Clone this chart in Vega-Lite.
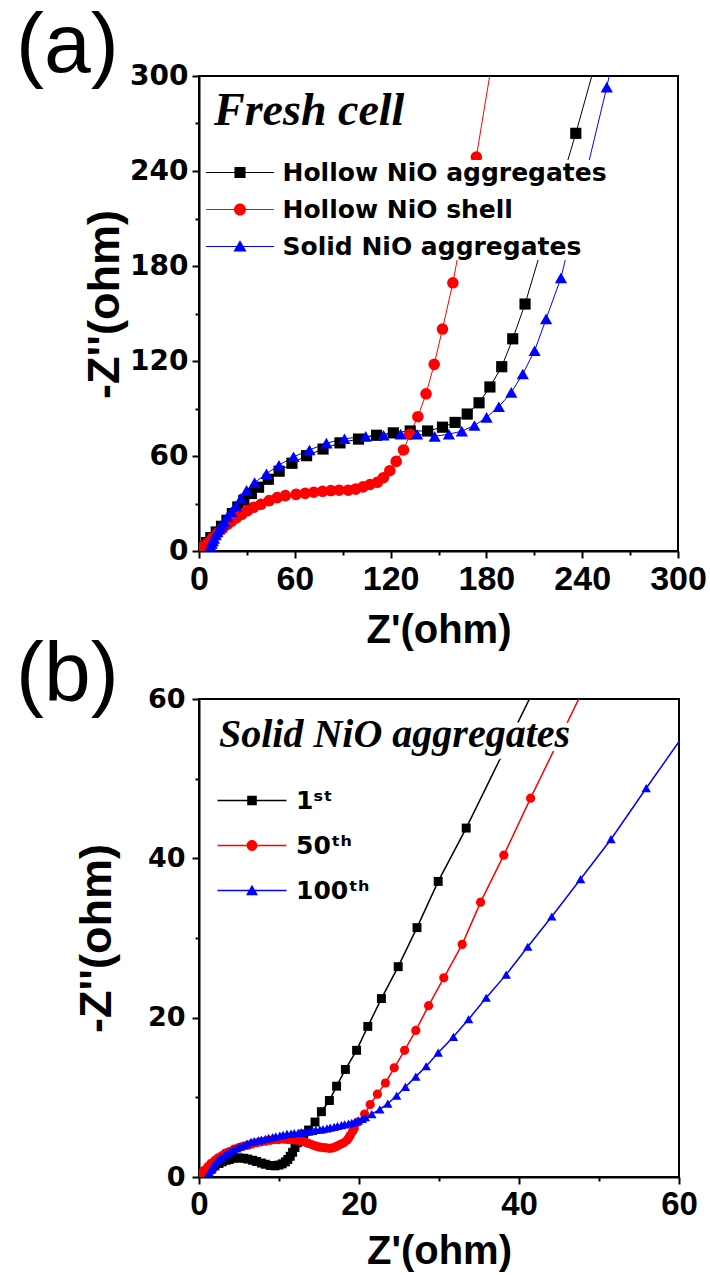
{
  "$schema": "https://vega.github.io/schema/vega-lite/v6.json",
  "background": "white",
  "padding": {"left": 15, "top": 4, "right": 0, "bottom": 0},
  "autosize": {"type": "pad"},
  "bounds": "flush",
  "spacing": 148,
  "config": {
    "view": {"stroke": "black", "strokeWidth": 2},
    "axis": {
      "grid": false, "domainColor": "black", "domainWidth": 2,
      "tickColor": "black", "tickWidth": 2, "labelColor": "black", "titleColor": "black",
      "labelFlush": false, "labelOverlap": false, "labelBound": false,
      "titleFont": "Liberation Sans", "titleFontWeight": "bold", "labelFontWeight": "bold"
    },
    "title": {"font": "Liberation Sans", "fontWeight": "normal", "color": "black", "anchor": "start", "frame": "group"}
  },
  "resolve": {
    "scale": {"color": "independent", "shape": "independent"},
    "legend": {"color": "independent", "shape": "independent"}
  },
  "datasets": {
    "fresh": [
      {"s": "Hollow NiO aggregates", "x": 0.7, "y": 0.4},
      {"s": "Hollow NiO aggregates", "x": 2.5, "y": 2.5},
      {"s": "Hollow NiO aggregates", "x": 4.7, "y": 5.3},
      {"s": "Hollow NiO aggregates", "x": 7.4, "y": 8.4},
      {"s": "Hollow NiO aggregates", "x": 10.8, "y": 12},
      {"s": "Hollow NiO aggregates", "x": 14.1, "y": 15.6},
      {"s": "Hollow NiO aggregates", "x": 17.5, "y": 19.4},
      {"s": "Hollow NiO aggregates", "x": 20.9, "y": 23.6},
      {"s": "Hollow NiO aggregates", "x": 24.3, "y": 27.8},
      {"s": "Hollow NiO aggregates", "x": 28.1, "y": 32.1},
      {"s": "Hollow NiO aggregates", "x": 32.8, "y": 36.3},
      {"s": "Hollow NiO aggregates", "x": 37.3, "y": 40.3},
      {"s": "Hollow NiO aggregates", "x": 43.4, "y": 45.3},
      {"s": "Hollow NiO aggregates", "x": 50.2, "y": 50.4},
      {"s": "Hollow NiO aggregates", "x": 58.2, "y": 55.4},
      {"s": "Hollow NiO aggregates", "x": 67.4, "y": 60.2},
      {"s": "Hollow NiO aggregates", "x": 77.7, "y": 64.4},
      {"s": "Hollow NiO aggregates", "x": 88.3, "y": 68.3},
      {"s": "Hollow NiO aggregates", "x": 99.9, "y": 70.7},
      {"s": "Hollow NiO aggregates", "x": 111.2, "y": 73.1},
      {"s": "Hollow NiO aggregates", "x": 121.7, "y": 74.6},
      {"s": "Hollow NiO aggregates", "x": 132.3, "y": 75.8},
      {"s": "Hollow NiO aggregates", "x": 143.2, "y": 75.8},
      {"s": "Hollow NiO aggregates", "x": 152.5, "y": 78.2},
      {"s": "Hollow NiO aggregates", "x": 160.4, "y": 81.2},
      {"s": "Hollow NiO aggregates", "x": 168, "y": 86.5},
      {"s": "Hollow NiO aggregates", "x": 175.4, "y": 93.6},
      {"s": "Hollow NiO aggregates", "x": 182.2, "y": 103.6},
      {"s": "Hollow NiO aggregates", "x": 189.6, "y": 116.4},
      {"s": "Hollow NiO aggregates", "x": 196.5, "y": 134},
      {"s": "Hollow NiO aggregates", "x": 204.2, "y": 156},
      {"s": "Hollow NiO aggregates", "x": 236, "y": 263.8},
      {"s": "Hollow NiO aggregates", "x": 248.5, "y": 309},
      {"s": "Hollow NiO shell", "x": 0.6, "y": 0.6},
      {"s": "Hollow NiO shell", "x": 2.5, "y": 2.7},
      {"s": "Hollow NiO shell", "x": 5.2, "y": 4.8},
      {"s": "Hollow NiO shell", "x": 8.4, "y": 8},
      {"s": "Hollow NiO shell", "x": 11.5, "y": 11.2},
      {"s": "Hollow NiO shell", "x": 14.7, "y": 14.1},
      {"s": "Hollow NiO shell", "x": 17.8, "y": 16.8},
      {"s": "Hollow NiO shell", "x": 20.5, "y": 18.9},
      {"s": "Hollow NiO shell", "x": 23.5, "y": 21.1},
      {"s": "Hollow NiO shell", "x": 26.8, "y": 23.2},
      {"s": "Hollow NiO shell", "x": 30.4, "y": 25.5},
      {"s": "Hollow NiO shell", "x": 34.2, "y": 27.6},
      {"s": "Hollow NiO shell", "x": 38.8, "y": 29.5},
      {"s": "Hollow NiO shell", "x": 44, "y": 31.8},
      {"s": "Hollow NiO shell", "x": 49, "y": 33.7},
      {"s": "Hollow NiO shell", "x": 54.1, "y": 35},
      {"s": "Hollow NiO shell", "x": 60.8, "y": 35.8},
      {"s": "Hollow NiO shell", "x": 66.5, "y": 36.4},
      {"s": "Hollow NiO shell", "x": 71.9, "y": 37.1},
      {"s": "Hollow NiO shell", "x": 77.4, "y": 37.7},
      {"s": "Hollow NiO shell", "x": 82.6, "y": 38.2},
      {"s": "Hollow NiO shell", "x": 87.8, "y": 38.4},
      {"s": "Hollow NiO shell", "x": 93.5, "y": 38.4},
      {"s": "Hollow NiO shell", "x": 98.1, "y": 39.1},
      {"s": "Hollow NiO shell", "x": 102.7, "y": 40.5},
      {"s": "Hollow NiO shell", "x": 107.1, "y": 42},
      {"s": "Hollow NiO shell", "x": 111.7, "y": 43.4},
      {"s": "Hollow NiO shell", "x": 115.5, "y": 46.3},
      {"s": "Hollow NiO shell", "x": 119.5, "y": 50.7},
      {"s": "Hollow NiO shell", "x": 123.5, "y": 56.6},
      {"s": "Hollow NiO shell", "x": 128.1, "y": 63.8},
      {"s": "Hollow NiO shell", "x": 132.1, "y": 73.7},
      {"s": "Hollow NiO shell", "x": 137.1, "y": 84.8},
      {"s": "Hollow NiO shell", "x": 142.2, "y": 99.3},
      {"s": "Hollow NiO shell", "x": 147.3, "y": 117.9},
      {"s": "Hollow NiO shell", "x": 152.5, "y": 140.2},
      {"s": "Hollow NiO shell", "x": 159, "y": 169.4},
      {"s": "Hollow NiO shell", "x": 173.7, "y": 248.8},
      {"s": "Hollow NiO shell", "x": 184.5, "y": 315},
      {"s": "Solid NiO aggregates", "x": 6.3, "y": 0},
      {"s": "Solid NiO aggregates", "x": 6.7, "y": 1.7},
      {"s": "Solid NiO aggregates", "x": 7.3, "y": 3.2},
      {"s": "Solid NiO aggregates", "x": 8, "y": 4.8},
      {"s": "Solid NiO aggregates", "x": 8.7, "y": 6.4},
      {"s": "Solid NiO aggregates", "x": 9.4, "y": 8},
      {"s": "Solid NiO aggregates", "x": 10.4, "y": 10.1},
      {"s": "Solid NiO aggregates", "x": 11.5, "y": 12.2},
      {"s": "Solid NiO aggregates", "x": 12.5, "y": 13.8},
      {"s": "Solid NiO aggregates", "x": 13.6, "y": 15.4},
      {"s": "Solid NiO aggregates", "x": 14.6, "y": 17},
      {"s": "Solid NiO aggregates", "x": 15.7, "y": 18.5},
      {"s": "Solid NiO aggregates", "x": 17.8, "y": 21.7},
      {"s": "Solid NiO aggregates", "x": 20.3, "y": 24.8},
      {"s": "Solid NiO aggregates", "x": 23.1, "y": 28.4},
      {"s": "Solid NiO aggregates", "x": 26.2, "y": 33.2},
      {"s": "Solid NiO aggregates", "x": 29.8, "y": 38.3},
      {"s": "Solid NiO aggregates", "x": 34.8, "y": 43.2},
      {"s": "Solid NiO aggregates", "x": 42.3, "y": 48.8},
      {"s": "Solid NiO aggregates", "x": 50.1, "y": 54.2},
      {"s": "Solid NiO aggregates", "x": 59.2, "y": 59.5},
      {"s": "Solid NiO aggregates", "x": 69.2, "y": 63.8},
      {"s": "Solid NiO aggregates", "x": 79.8, "y": 68.1},
      {"s": "Solid NiO aggregates", "x": 91.1, "y": 70.9},
      {"s": "Solid NiO aggregates", "x": 104.4, "y": 72.4},
      {"s": "Solid NiO aggregates", "x": 115.6, "y": 73.1},
      {"s": "Solid NiO aggregates", "x": 126.3, "y": 73.8},
      {"s": "Solid NiO aggregates", "x": 136.6, "y": 73.7},
      {"s": "Solid NiO aggregates", "x": 147.6, "y": 72.4},
      {"s": "Solid NiO aggregates", "x": 156.5, "y": 73.8},
      {"s": "Solid NiO aggregates", "x": 164.6, "y": 75.7},
      {"s": "Solid NiO aggregates", "x": 172.5, "y": 79.3},
      {"s": "Solid NiO aggregates", "x": 180.1, "y": 84.4},
      {"s": "Solid NiO aggregates", "x": 187.8, "y": 91.1},
      {"s": "Solid NiO aggregates", "x": 195.6, "y": 100.2},
      {"s": "Solid NiO aggregates", "x": 202.8, "y": 111.8},
      {"s": "Solid NiO aggregates", "x": 210.2, "y": 126.5},
      {"s": "Solid NiO aggregates", "x": 217.4, "y": 146.6},
      {"s": "Solid NiO aggregates", "x": 226.7, "y": 172.5},
      {"s": "Solid NiO aggregates", "x": 255.4, "y": 293},
      {"s": "Solid NiO aggregates", "x": 259.5, "y": 312}
    ],
    "cycled": [
      {"s": "1ˢᵗ", "x": 0.2, "y": 0.2}, {"s": "1ˢᵗ", "x": 0.7, "y": 0.5}, {"s": "1ˢᵗ", "x": 1.1, "y": 0.8},
      {"s": "1ˢᵗ", "x": 1.6, "y": 1.1}, {"s": "1ˢᵗ", "x": 2, "y": 1.4}, {"s": "1ˢᵗ", "x": 2.5, "y": 1.7},
      {"s": "1ˢᵗ", "x": 2.9, "y": 1.9}, {"s": "1ˢᵗ", "x": 3.4, "y": 2.1}, {"s": "1ˢᵗ", "x": 3.8, "y": 2.2},
      {"s": "1ˢᵗ", "x": 4.4, "y": 2.35}, {"s": "1ˢᵗ", "x": 5, "y": 2.4}, {"s": "1ˢᵗ", "x": 5.6, "y": 2.35},
      {"s": "1ˢᵗ", "x": 6.1, "y": 2.25}, {"s": "1ˢᵗ", "x": 6.7, "y": 2.1}, {"s": "1ˢᵗ", "x": 7.2, "y": 1.95},
      {"s": "1ˢᵗ", "x": 7.8, "y": 1.75}, {"s": "1ˢᵗ", "x": 8.3, "y": 1.6}, {"s": "1ˢᵗ", "x": 8.9, "y": 1.45},
      {"s": "1ˢᵗ", "x": 9.5, "y": 1.4}, {"s": "1ˢᵗ", "x": 10, "y": 1.5}, {"s": "1ˢᵗ", "x": 10.4, "y": 1.65},
      {"s": "1ˢᵗ", "x": 10.8, "y": 1.9}, {"s": "1ˢᵗ", "x": 11.1, "y": 2.2}, {"s": "1ˢᵗ", "x": 11.4, "y": 2.6},
      {"s": "1ˢᵗ", "x": 11.7, "y": 3.1}, {"s": "1ˢᵗ", "x": 12, "y": 3.7}, {"s": "1ˢᵗ", "x": 12.3, "y": 4.3},
      {"s": "1ˢᵗ", "x": 12.7, "y": 4.9}, {"s": "1ˢᵗ", "x": 13.1, "y": 5.4}, {"s": "1ˢᵗ", "x": 13.7, "y": 5.9},
      {"s": "1ˢᵗ", "x": 14.5, "y": 6.9}, {"s": "1ˢᵗ", "x": 15.3, "y": 8.2}, {"s": "1ˢᵗ", "x": 16.3, "y": 9.6},
      {"s": "1ˢᵗ", "x": 17.2, "y": 11.4}, {"s": "1ˢᵗ", "x": 18.3, "y": 13.5}, {"s": "1ˢᵗ", "x": 19.7, "y": 15.9},
      {"s": "1ˢᵗ", "x": 21.1, "y": 18.9}, {"s": "1ˢᵗ", "x": 22.8, "y": 22.4}, {"s": "1ˢᵗ", "x": 24.9, "y": 26.4},
      {"s": "1ˢᵗ", "x": 27.25, "y": 31.3}, {"s": "1ˢᵗ", "x": 29.9, "y": 37.1}, {"s": "1ˢᵗ", "x": 33.4, "y": 43.8},
      {"s": "1ˢᵗ", "x": 43.3, "y": 64.1},
      {"s": "50ᵗʰ", "x": 0.2, "y": 0.4}, {"s": "50ᵗʰ", "x": 0.6, "y": 0.8}, {"s": "50ᵗʰ", "x": 1.1, "y": 1.3},
      {"s": "50ᵗʰ", "x": 1.5, "y": 1.7}, {"s": "50ᵗʰ", "x": 2, "y": 2.1}, {"s": "50ᵗʰ", "x": 2.4, "y": 2.4},
      {"s": "50ᵗʰ", "x": 2.9, "y": 2.7}, {"s": "50ᵗʰ", "x": 3.3, "y": 3}, {"s": "50ᵗʰ", "x": 3.8, "y": 3.2},
      {"s": "50ᵗʰ", "x": 4.4, "y": 3.5}, {"s": "50ᵗʰ", "x": 5, "y": 3.7}, {"s": "50ᵗʰ", "x": 5.5, "y": 3.85},
      {"s": "50ᵗʰ", "x": 6.1, "y": 4}, {"s": "50ᵗʰ", "x": 6.6, "y": 4.15}, {"s": "50ᵗʰ", "x": 7.2, "y": 4.3},
      {"s": "50ᵗʰ", "x": 7.7, "y": 4.4}, {"s": "50ᵗʰ", "x": 8.3, "y": 4.5}, {"s": "50ᵗʰ", "x": 8.9, "y": 4.6},
      {"s": "50ᵗʰ", "x": 9.5, "y": 4.7}, {"s": "50ᵗʰ", "x": 10, "y": 4.7}, {"s": "50ᵗʰ", "x": 10.6, "y": 4.75},
      {"s": "50ᵗʰ", "x": 11.1, "y": 4.7}, {"s": "50ᵗʰ", "x": 11.5, "y": 4.7}, {"s": "50ᵗʰ", "x": 12, "y": 4.65},
      {"s": "50ᵗʰ", "x": 12.4, "y": 4.6}, {"s": "50ᵗʰ", "x": 12.8, "y": 4.5}, {"s": "50ᵗʰ", "x": 13.2, "y": 4.4},
      {"s": "50ᵗʰ", "x": 13.6, "y": 4.25}, {"s": "50ᵗʰ", "x": 14, "y": 4.1}, {"s": "50ᵗʰ", "x": 14.4, "y": 3.95},
      {"s": "50ᵗʰ", "x": 14.7, "y": 3.85}, {"s": "50ᵗʰ", "x": 15.1, "y": 3.75}, {"s": "50ᵗʰ", "x": 15.5, "y": 3.7},
      {"s": "50ᵗʰ", "x": 15.9, "y": 3.65}, {"s": "50ᵗʰ", "x": 16.3, "y": 3.6}, {"s": "50ᵗʰ", "x": 16.7, "y": 3.65},
      {"s": "50ᵗʰ", "x": 17.1, "y": 3.8}, {"s": "50ᵗʰ", "x": 17.4, "y": 3.95}, {"s": "50ᵗʰ", "x": 17.7, "y": 4.1},
      {"s": "50ᵗʰ", "x": 18.1, "y": 4.3}, {"s": "50ᵗʰ", "x": 18.5, "y": 4.6}, {"s": "50ᵗʰ", "x": 18.7, "y": 4.9},
      {"s": "50ᵗʰ", "x": 18.9, "y": 5.2}, {"s": "50ᵗʰ", "x": 19.2, "y": 5.7}, {"s": "50ᵗʰ", "x": 19.4, "y": 6.1},
      {"s": "50ᵗʰ", "x": 19.9, "y": 6.9}, {"s": "50ᵗʰ", "x": 20.7, "y": 7.9}, {"s": "50ᵗʰ", "x": 21.4, "y": 9.1},
      {"s": "50ᵗʰ", "x": 22.3, "y": 10.4}, {"s": "50ᵗʰ", "x": 23.3, "y": 11.8}, {"s": "50ᵗʰ", "x": 24.4, "y": 13.7},
      {"s": "50ᵗʰ", "x": 25.7, "y": 15.9}, {"s": "50ᵗʰ", "x": 27.1, "y": 18.4}, {"s": "50ᵗʰ", "x": 28.7, "y": 21.5},
      {"s": "50ᵗʰ", "x": 30.6, "y": 25}, {"s": "50ᵗʰ", "x": 32.9, "y": 29.2}, {"s": "50ᵗʰ", "x": 35.2, "y": 34.5},
      {"s": "50ᵗʰ", "x": 38.1, "y": 40.4}, {"s": "50ᵗʰ", "x": 41.45, "y": 47.55}, {"s": "50ᵗʰ", "x": 49.4, "y": 64},
      {"s": "100ᵗʰ", "x": 1.1, "y": 0.2}, {"s": "100ᵗʰ", "x": 1.3, "y": 0.55}, {"s": "100ᵗʰ", "x": 1.5, "y": 0.9},
      {"s": "100ᵗʰ", "x": 1.7, "y": 1.25}, {"s": "100ᵗʰ", "x": 1.9, "y": 1.6}, {"s": "100ᵗʰ", "x": 2.2, "y": 1.9},
      {"s": "100ᵗʰ", "x": 2.5, "y": 2.2}, {"s": "100ᵗʰ", "x": 2.8, "y": 2.45}, {"s": "100ᵗʰ", "x": 3.2, "y": 2.7},
      {"s": "100ᵗʰ", "x": 3.5, "y": 2.95}, {"s": "100ᵗʰ", "x": 3.9, "y": 3.2}, {"s": "100ᵗʰ", "x": 4.3, "y": 3.4},
      {"s": "100ᵗʰ", "x": 4.7, "y": 3.6}, {"s": "100ᵗʰ", "x": 5.1, "y": 3.8}, {"s": "100ᵗʰ", "x": 5.6, "y": 4},
      {"s": "100ᵗʰ", "x": 6, "y": 4.2}, {"s": "100ᵗʰ", "x": 6.5, "y": 4.4}, {"s": "100ᵗʰ", "x": 6.9, "y": 4.5},
      {"s": "100ᵗʰ", "x": 7.4, "y": 4.6}, {"s": "100ᵗʰ", "x": 7.8, "y": 4.7}, {"s": "100ᵗʰ", "x": 8.3, "y": 4.8},
      {"s": "100ᵗʰ", "x": 8.7, "y": 4.9}, {"s": "100ᵗʰ", "x": 9.2, "y": 5}, {"s": "100ᵗʰ", "x": 9.6, "y": 5.1},
      {"s": "100ᵗʰ", "x": 10.1, "y": 5.2}, {"s": "100ᵗʰ", "x": 10.5, "y": 5.3}, {"s": "100ᵗʰ", "x": 11, "y": 5.4},
      {"s": "100ᵗʰ", "x": 11.5, "y": 5.45}, {"s": "100ᵗʰ", "x": 11.9, "y": 5.5}, {"s": "100ᵗʰ", "x": 12.4, "y": 5.55},
      {"s": "100ᵗʰ", "x": 12.8, "y": 5.6}, {"s": "100ᵗʰ", "x": 13.3, "y": 5.65}, {"s": "100ᵗʰ", "x": 13.7, "y": 5.7},
      {"s": "100ᵗʰ", "x": 14.2, "y": 5.8}, {"s": "100ᵗʰ", "x": 14.6, "y": 5.9}, {"s": "100ᵗʰ", "x": 15.1, "y": 5.95},
      {"s": "100ᵗʰ", "x": 15.5, "y": 6}, {"s": "100ᵗʰ", "x": 16, "y": 6.1}, {"s": "100ᵗʰ", "x": 16.4, "y": 6.2},
      {"s": "100ᵗʰ", "x": 16.9, "y": 6.3}, {"s": "100ᵗʰ", "x": 17.3, "y": 6.4}, {"s": "100ᵗʰ", "x": 17.8, "y": 6.5},
      {"s": "100ᵗʰ", "x": 18.2, "y": 6.6}, {"s": "100ᵗʰ", "x": 18.7, "y": 6.7}, {"s": "100ᵗʰ", "x": 19.1, "y": 6.8},
      {"s": "100ᵗʰ", "x": 19.5, "y": 6.95}, {"s": "100ᵗʰ", "x": 19.9, "y": 7.1}, {"s": "100ᵗʰ", "x": 20.4, "y": 7.3},
      {"s": "100ᵗʰ", "x": 20.8, "y": 7.5}, {"s": "100ᵗʰ", "x": 21.6, "y": 7.9}, {"s": "100ᵗʰ", "x": 22.6, "y": 8.5},
      {"s": "100ᵗʰ", "x": 23.6, "y": 9.2}, {"s": "100ᵗʰ", "x": 24.7, "y": 10.2}, {"s": "100ᵗʰ", "x": 25.8, "y": 11.3},
      {"s": "100ᵗʰ", "x": 27.1, "y": 12.6}, {"s": "100ᵗʰ", "x": 28.4, "y": 13.9}, {"s": "100ᵗʰ", "x": 29.9, "y": 15.6},
      {"s": "100ᵗʰ", "x": 31.8, "y": 17.6}, {"s": "100ᵗʰ", "x": 33.7, "y": 19.8}, {"s": "100ᵗʰ", "x": 35.9, "y": 22.5},
      {"s": "100ᵗʰ", "x": 38.4, "y": 25.4}, {"s": "100ᵗʰ", "x": 41.1, "y": 28.9}, {"s": "100ᵗʰ", "x": 44.1, "y": 32.7},
      {"s": "100ᵗʰ", "x": 47.7, "y": 37.4}, {"s": "100ᵗʰ", "x": 51.5, "y": 42.4}, {"s": "100ᵗʰ", "x": 55.9, "y": 48.8},
      {"s": "100ᵗʰ", "x": 60.6, "y": 55.5}
    ]
  },
  "vconcat": [
    {
      "width": 479,
      "height": 475,
      "title": {"text": "(a)", "fontSize": 84, "baseline": "alphabetic", "offset": 4, "dy": 98, "dx": -183},
      "layer": [
        {
          "data": {"name": "fresh"},
          "mark": {"type": "line", "strokeWidth": 1, "clip": true},
          "encoding": {
            "x": {"field": "x", "type": "quantitative", "scale": {"domain": [0, 300], "nice": false, "zero": false},
              "axis": {"values": [0, 30, 60, 90, 120, 150, 180, 210, 240, 270, 300], "labelExpr": "datum.value % 60 === 0 ? datum.label : ''",
                "tickSize": {"condition": {"test": "datum.value % 60 === 0", "value": 7}, "value": 4},
                "labelFont": "Liberation Sans", "labelFontSize": 34, "labelPadding": 4,
                "title": "Z'(ohm)", "titleFontSize": 40, "titlePadding": 14}},
            "y": {"field": "y", "type": "quantitative", "scale": {"domain": [0, 300], "nice": false, "zero": false},
              "axis": {"values": [0, 30, 60, 90, 120, 150, 180, 210, 240, 270, 300], "labelExpr": "datum.value % 60 === 0 ? datum.label : ''",
                "tickSize": {"condition": {"test": "datum.value % 60 === 0", "value": 7}, "value": 4},
                "labelFont": "DejaVu Sans", "labelFontSize": 28, "labelPadding": 4,
                "title": "-Z''(ohm)", "titleFontSize": 45, "titlePadding": 2, "titleY": 228}},
            "color": {"field": "s", "type": "nominal",
              "scale": {"domain": ["Hollow NiO aggregates", "Hollow NiO shell", "Solid NiO aggregates"], "range": ["#000000", "#ff0000", "#0000ff"]},
              "legend": {
                "orient": "none", "legendX": 5, "legendY": 84, "title": null, "fillColor": "white", "padding": 0,
                "symbolSize": 144, "symbolOffset": 23.5, "symbolStrokeWidth": 0, "symbolOpacity": 1, "labelOffset": 30,
                "labelFont": "DejaVu Sans", "labelFontWeight": "bold", "labelFontSize": 25, "labelColor": "black",
                "rowPadding": 11, "labelLimit": 0}}
          }
        },
        {
          "data": {"name": "fresh"},
          "mark": {"type": "point", "filled": true, "opacity": 1, "size": 0, "clip": true},
          "encoding": {
            "x": {"field": "x", "type": "quantitative"},
            "y": {"field": "y", "type": "quantitative"},
            "color": {"field": "s", "type": "nominal", "legend": null},
            "shape": {"field": "s", "type": "nominal",
              "scale": {"domain": ["Hollow NiO aggregates", "Hollow NiO shell", "Solid NiO aggregates"],
                "range": ["M-5.67,-0.085H5.67V0.085H-5.67ZM-0.92,-0.92H0.92V0.92H-0.92Z", "M-5.67,-0.085H5.67V0.085H-5.67ZM1,0A1,1,0,1,1,-1,0A1,1,0,1,1,1,0Z", "M-5.67,-0.085H5.67V0.085H-5.67ZM0,-1.05L1.1,0.85H-1.1Z"]},
              "legend": null}
          }
        },
        {
          "data": {"name": "fresh"},
          "transform": [{"filter": "datum.s === 'Hollow NiO aggregates'"}],
          "mark": {"type": "point", "filled": true, "opacity": 1, "size": 125, "shape": "square", "color": "#000000", "clip": true},
          "encoding": {"x": {"field": "x", "type": "quantitative"}, "y": {"field": "y", "type": "quantitative"}}
        },
        {
          "data": {"name": "fresh"},
          "transform": [{"filter": "datum.s === 'Hollow NiO shell'"}],
          "mark": {"type": "point", "filled": true, "opacity": 1, "size": 135, "shape": "circle", "color": "#ff0000", "clip": true},
          "encoding": {"x": {"field": "x", "type": "quantitative"}, "y": {"field": "y", "type": "quantitative"}}
        },
        {
          "data": {"name": "fresh"},
          "transform": [{"filter": "datum.s === 'Solid NiO aggregates'"}],
          "mark": {"type": "point", "filled": true, "opacity": 1, "size": 150, "shape": "triangle-up", "color": "#0000ff", "clip": true},
          "encoding": {"x": {"field": "x", "type": "quantitative"}, "y": {"field": "y", "type": "quantitative"}}
        },
        {
          "data": {"values": [{}]},
          "mark": {"type": "text", "font": "Liberation Serif", "fontStyle": "italic", "fontWeight": "bold", "fontSize": 46, "align": "left", "baseline": "alphabetic", "color": "black"},
          "encoding": {
            "x": {"datum": 9.4, "type": "quantitative"},
            "y": {"datum": 269, "type": "quantitative"},
            "text": {"value": "Fresh cell"}
          }
        }
      ]
    },
    {
      "width": 480,
      "height": 478,
      "title": {"text": "(b)", "fontSize": 84, "baseline": "alphabetic", "offset": 0, "dy": 100, "dx": -183},
      "layer": [
        {
          "data": {"name": "cycled"},
          "mark": {"type": "line", "strokeWidth": 1.5, "clip": true},
          "encoding": {
            "x": {"field": "x", "type": "quantitative", "scale": {"domain": [0, 60], "nice": false, "zero": false},
              "axis": {"values": [0, 10, 20, 30, 40, 50, 60], "labelExpr": "datum.value % 20 === 0 ? datum.label : ''",
                "tickSize": {"condition": {"test": "datum.value % 20 === 0", "value": 7}, "value": 4},
                "labelFont": "Liberation Sans", "labelFontSize": 33, "labelPadding": 4,
                "title": "Z'(ohm)", "titleFontSize": 40, "titlePadding": 10}},
            "y": {"field": "y", "type": "quantitative", "scale": {"domain": [0, 60], "nice": false, "zero": false},
              "axis": {"values": [0, 10, 20, 30, 40, 50, 60], "labelExpr": "datum.value % 20 === 0 ? datum.label : ''",
                "tickSize": {"condition": {"test": "datum.value % 20 === 0", "value": 7}, "value": 4},
                "labelFont": "DejaVu Sans", "labelFontSize": 27, "labelPadding": 7,
                "title": "-Z''(ohm)", "titleFontSize": 45, "titlePadding": 28}},
            "color": {"field": "s", "type": "nominal",
              "scale": {"domain": ["1ˢᵗ", "50ᵗʰ", "100ᵗʰ"], "range": ["#000000", "#ff0000", "#0000ff"]},
              "legend": {
                "orient": "none", "legendX": 19, "legendY": 89, "title": null, "fillColor": "white", "padding": 0,
                "symbolSize": 144, "symbolOffset": 21.5, "symbolStrokeWidth": 0, "symbolOpacity": 1, "labelOffset": 31.5,
                "labelFont": "DejaVu Sans", "labelFontWeight": "bold", "labelFontSize": 25, "labelColor": "black",
                "rowPadding": 19, "labelLimit": 0}}
          }
        },
        {
          "data": {"name": "cycled"},
          "mark": {"type": "point", "filled": true, "opacity": 1, "size": 0, "clip": true},
          "encoding": {
            "x": {"field": "x", "type": "quantitative"},
            "y": {"field": "y", "type": "quantitative"},
            "color": {"field": "s", "type": "nominal", "legend": null},
            "shape": {"field": "s", "type": "nominal",
              "scale": {"domain": ["1ˢᵗ", "50ᵗʰ", "100ᵗʰ"],
                "range": ["M-5.75,-0.13H5.75V0.13H-5.75ZM-0.8,-0.8H0.8V0.8H-0.8Z", "M-5.75,-0.13H5.75V0.13H-5.75ZM0.9,0A0.9,0.9,0,1,1,-0.9,0A0.9,0.9,0,1,1,0.9,0Z", "M-5.75,-0.13H5.75V0.13H-5.75ZM0,-0.95L1,0.8H-1Z"]},
              "legend": null}
          }
        },
        {
          "data": {"name": "cycled"},
          "transform": [{"filter": "datum.s === '1ˢᵗ'"}],
          "mark": {"type": "point", "filled": true, "opacity": 1, "size": 80, "shape": "square", "color": "#000000", "clip": true},
          "encoding": {"x": {"field": "x", "type": "quantitative"}, "y": {"field": "y", "type": "quantitative"}}
        },
        {
          "data": {"name": "cycled"},
          "transform": [{"filter": "datum.s === '50ᵗʰ'"}],
          "mark": {"type": "point", "filled": true, "opacity": 1, "size": 85, "shape": "circle", "color": "#ff0000", "clip": true},
          "encoding": {"x": {"field": "x", "type": "quantitative"}, "y": {"field": "y", "type": "quantitative"}}
        },
        {
          "data": {"name": "cycled"},
          "transform": [{"filter": "datum.s === '100ᵗʰ'"}],
          "mark": {"type": "point", "filled": true, "opacity": 1, "size": 90, "shape": "triangle-up", "color": "#0000ff", "clip": true},
          "encoding": {"x": {"field": "x", "type": "quantitative"}, "y": {"field": "y", "type": "quantitative"}}
        },
        {
          "data": {"values": [{}]},
          "mark": {"type": "text", "font": "Liberation Serif", "fontStyle": "italic", "fontWeight": "bold", "fontSize": 40, "align": "left", "baseline": "alphabetic", "stroke": "white", "strokeWidth": 10, "color": "white"},
          "encoding": {
            "x": {"datum": 2.5, "type": "quantitative"},
            "y": {"datum": 54, "type": "quantitative"},
            "text": {"value": "Solid NiO aggregates"}
          }
        },
        {
          "data": {"values": [{}]},
          "mark": {"type": "text", "font": "Liberation Serif", "fontStyle": "italic", "fontWeight": "bold", "fontSize": 40, "align": "left", "baseline": "alphabetic", "color": "black"},
          "encoding": {
            "x": {"datum": 2.5, "type": "quantitative"},
            "y": {"datum": 54, "type": "quantitative"},
            "text": {"value": "Solid NiO aggregates"}
          }
        }
      ]
    }
  ]
}
